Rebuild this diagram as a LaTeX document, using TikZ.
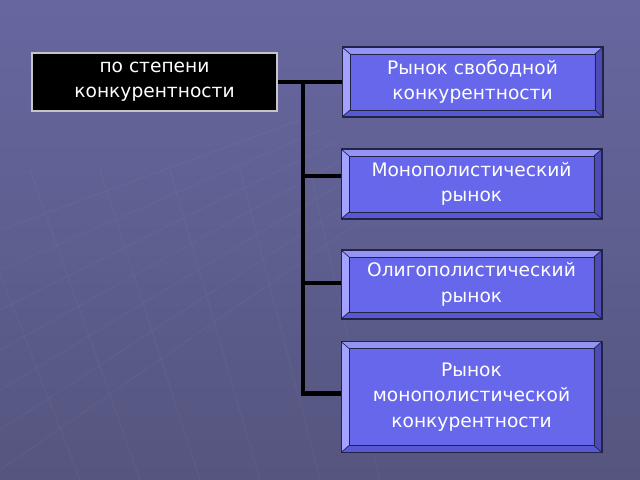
\documentclass[tikz,border=0pt]{standalone}
\usepackage{fontspec}
\setmainfont{DejaVu Sans}
\usetikzlibrary{positioning}

\definecolor{bgtop}{HTML}{6767A0}
\definecolor{bgbottom}{HTML}{55557F}
\definecolor{boxface}{HTML}{6767EC}
\definecolor{bevtop}{HTML}{9494F4}
\definecolor{bevleft}{HTML}{A3A3FF}
\definecolor{bevright}{HTML}{4C4CB4}
\definecolor{bevbottom}{HTML}{5858D2}
\definecolor{boxline}{HTML}{23234A}

\tikzset{
  kind/.style={draw=boxline, fill=boxface, line width=0.6pt, text=white,
    font=\fontsize{10.6}{14.4}\selectfont, align=center, inner sep=0pt,
    minimum width=5.22cm,
    path picture={
      \coordinate (nw) at (path picture bounding box.north west);
      \coordinate (ne) at (path picture bounding box.north east);
      \coordinate (sw) at (path picture bounding box.south west);
      \coordinate (se) at (path picture bounding box.south east);
      \fill[bevtop] (nw) -- (ne) -- ([xshift=-4.6pt,yshift=-4pt]ne) -- ([xshift=4.6pt,yshift=-4pt]nw) -- cycle;
      \fill[bevleft] (nw) -- (sw) -- ([xshift=4.6pt,yshift=4pt]sw) -- ([xshift=4.6pt,yshift=-4pt]nw) -- cycle;
      \fill[bevright] (ne) -- (se) -- ([xshift=-4.6pt,yshift=4pt]se) -- ([xshift=-4.6pt,yshift=-4pt]ne) -- cycle;
      \fill[bevbottom] (sw) -- (se) -- ([xshift=-4.6pt,yshift=4pt]se) -- ([xshift=4.6pt,yshift=4pt]sw) -- cycle;
      \draw[boxline, line width=0.4pt] ([xshift=4.6pt,yshift=-4pt]nw) rectangle ([xshift=-4.6pt,yshift=4pt]se);
      \draw[boxline, line width=0.4pt] (nw) -- ([xshift=4.6pt,yshift=-4pt]nw)
        (ne) -- ([xshift=-4.6pt,yshift=-4pt]ne)
        (sw) -- ([xshift=4.6pt,yshift=4pt]sw)
        (se) -- ([xshift=-4.6pt,yshift=4pt]se);
    }},
  crit/.style={draw=gray!45, fill=black, line width=1pt, text=white,
    font=\fontsize{10.6}{14.4}\selectfont, align=center,
    minimum width=4.9cm, minimum height=1.16cm},
  link/.style={line width=2.3pt, black}
}

\begin{document}
\begin{tikzpicture}[x=0.02cm, y=-0.02cm]
        \shade[top color=bgtop, bottom color=bgbottom] (0,0) rectangle (640,480);
        \useasboundingbox (0,0) rectangle (640,480);

        % faint floor grid
        \foreach \i in {0,...,6} {
          \draw[white, opacity=0.035, line width=0.6pt] (0,{230+40*\i}) -- ({300+20*\i},{120+10*\i});
        }
        \foreach \i in {0,...,5} {
          \draw[white, opacity=0.035, line width=0.6pt] ({-40+70*\i},170) -- ({80+60*\i},480);
        }

        \node[crit] (degree) at (154.5,82) {по степени\\конкурентности};

        \node[kind, minimum height=1.4cm] (free) at (472.5,82) {Рынок свободной\\конкурентности};
        \node[kind, minimum height=1.4cm] (mono) at (471.5,184) {Монополистический\\рынок};
        \node[kind, minimum height=1.38cm] (oligo) at (471.5,284.5) {Олигополистический\\рынок};
        \node[kind, minimum height=2.22cm] (monocomp) at (471.5,397) {Рынок\\монополистической\\конкурентности};

        \coordinate (split) at (303,82);
        \draw[link] (degree) -- (free);
        \draw[link] (split) |- ([yshift=4.5pt]mono.west);
        \draw[link] (split) |- ([yshift=1pt]oligo.west);
        \draw[link] (split) |- ([yshift=2pt]monocomp.west);
      \end{tikzpicture}
\end{document}
